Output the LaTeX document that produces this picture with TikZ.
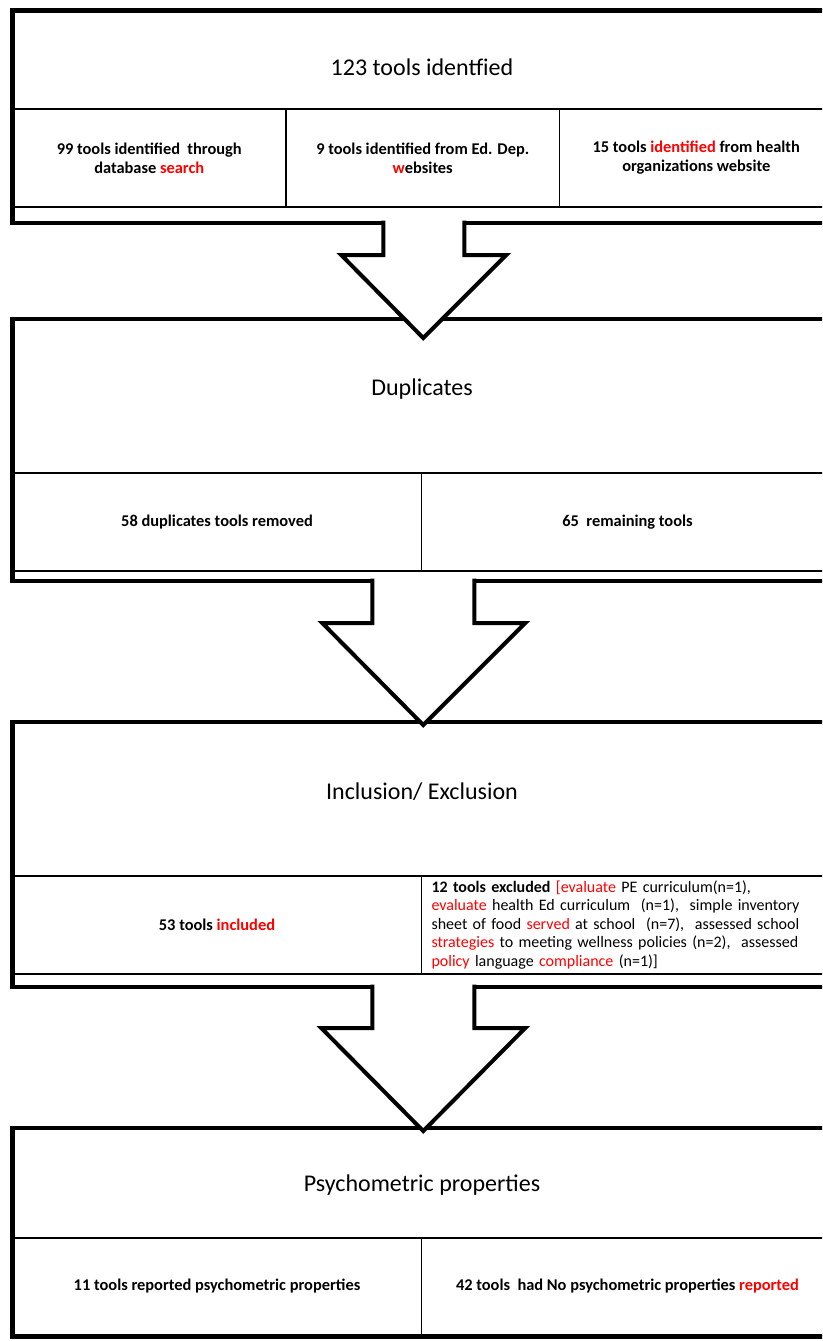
\documentclass[tikz,border=0pt]{standalone}
\usepackage{fontspec}
\setmainfont{Carlito}
\usetikzlibrary{calc,positioning}
\tikzstyle{frame} = [rectangle, draw=black, line width=4.5pt, inner sep=0pt, outer sep=0pt, anchor=north west]
\tikzstyle{cell} = [rectangle, draw=black, line width=1.8pt, inner sep=0pt, outer sep=0pt, anchor=north west, align=center, font=\bfseries\fontsize{16.4}{19}\selectfont]
\tikzstyle{headline} = [font=\fontsize{24}{28}\selectfont]
\tikzstyle{blockarrow} = [draw=black, fill=white, line width=4pt, line join=miter]
\newcommand{\redw}[1]{\textcolor{red}{#1}}

\begin{document}
\begin{tikzpicture}[x=1pt, y=1pt]
\path[use as bounding box, fill=white] (0,0) rectangle (822,-1341);
\clip (0,0) rectangle (822,-1341);

% identified
\node (cellA1) [cell, minimum width=273.5, minimum height=98] at (12.5,-109) {99 tools identified~ through\\database \redw{search}};
\node (cellA2) [cell, minimum width=273.5, minimum height=98] at (286,-109) {9 tools identified from Ed. Dep.\\\redw{w}ebsites};
\node (cellA3) [cell, minimum width=273.5, minimum height=98] at (559.5,-109) {15 tools \redw{identified} from health\\organizations website};
\node (frameA) [frame, minimum width=820.5, minimum height=212.5] at (12.5,-10.5) {};
\node (titleA) [headline] at (422,-67) {123 tools identfied};

% duplicates
\node (cellB1) [cell, minimum width=409, minimum height=98] at (12.5,-473) {58 duplicates tools removed};
\node (cellB2) [cell, minimum width=412, minimum height=98] at (421.5,-473) {65~ remaining tools};
\node (frameB) [frame, minimum width=820.5, minimum height=262] at (12.5,-319) {};
\node (titleB) [headline] at (422,-389) {Duplicates};

% inclusion / exclusion
\node (cellC1) [cell, minimum width=409, minimum height=98] at (12.5,-876) {53 tools \redw{included}};
\node (cellC2) [cell, minimum width=412, minimum height=98, align=left, text width=392, inner xsep=10pt, font=\fontsize{16}{18.5}\selectfont] at (421.5,-876) {{\bfseries 12 tools excluded} \redw{[evaluate} PE curriculum(n=1),\\
\redw{evaluate} health Ed curriculum~ (n=1),~ simple inventory\\
sheet of food \redw{served} at school~ (n=7),~ assessed school\\
\redw{strategies} to meeting wellness policies (n=2),~ assessed\\
\redw{policy} language \redw{compliance} (n=1)]};
\node (frameC) [frame, minimum width=820.5, minimum height=265] at (12.5,-722) {};
\node (titleC) [headline] at (422,-792) {Inclusion/ Exclusion};

% psychometric
\node (cellD1) [cell, minimum width=409, minimum height=97] at (12.5,-1238) {11 tools reported psychometric properties};
\node (cellD2) [cell, minimum width=412, minimum height=97] at (421.5,-1238) {42 tools~ had No psychometric properties \redw{reported}};
\node (frameD) [frame, minimum width=820.5, minimum height=209] at (12.5,-1128) {};
\node (titleD) [headline] at (422,-1185) {Psychometric properties};

% arrows
\filldraw[blockarrow] ($(frameA.south)+(-39.5,2.5)$) -- ++(0,-34.5) -- ++(-42,0) -- ($(frameB.north)+(0.5,-19)$) -- ($(frameA.south)+(83.5,-32)$) -- ++(-42,0) -- ++(0,34.5);
\filldraw[blockarrow] ($(frameB.south)+(-50.5,2.5)$) -- ++(0,-44.5) -- ++(-50,0) -- ($(frameC.north)+(0.5,-3)$) -- ($(frameB.south)+(102.5,-42)$) -- ++(-51,0) -- ++(0,44.5);
\filldraw[blockarrow] ($(frameC.south)+(-50.5,2.5)$) -- ++(0,-43.5) -- ++(-51,0) -- ($(frameD.north)+(0.5,-3)$) -- ($(frameC.south)+(102.5,-41)$) -- ++(-51,0) -- ++(0,43.5);
\end{tikzpicture}
\end{document}
